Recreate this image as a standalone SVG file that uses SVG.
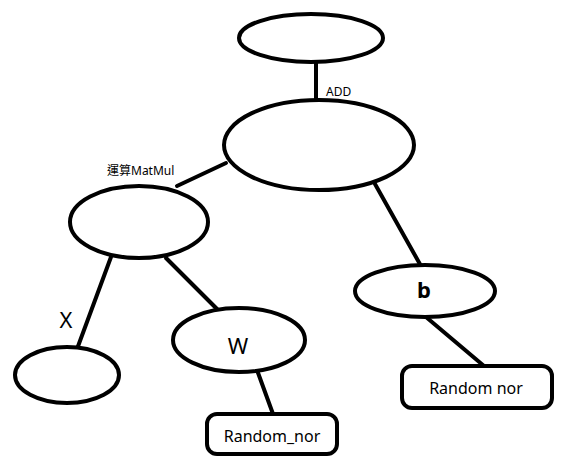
<svg xmlns="http://www.w3.org/2000/svg" width="569" height="464" viewBox="0 0 569 464">
<style>
.n{fill:#fff;stroke:#000;stroke-width:4}
.e{stroke:#000;stroke-width:4;fill:none;stroke-linecap:round}
.t{font-family:"Noto Sans","Noto Sans CJK TC",sans-serif;fill:#000;text-anchor:middle}
.s{font-size:12px;text-anchor:start}
</style>
<rect width="569" height="464" fill="#fff"/>
<g id="connectors">
<line class="e" x1="316" y1="62" x2="316" y2="101"/>
<line class="e" x1="226" y1="163" x2="177" y2="186"/>
<line class="e" x1="375" y1="184" x2="421" y2="266"/>
<line class="e" x1="111" y1="257" x2="77" y2="349"/>
<line class="e" x1="166" y1="258" x2="220" y2="312"/>
<line class="e" x1="257" y1="370" x2="273" y2="414"/>
<line class="e" x1="426" y1="317" x2="484" y2="366"/>
</g>
<g id="top"><ellipse class="n" cx="311" cy="38" rx="72" ry="24"/></g>
<g id="add"><ellipse class="n" cx="319" cy="145" rx="95" ry="45"/><text class="t s" x="326" y="96">ADD</text></g>
<g id="matmul"><ellipse class="n" cx="139" cy="222" rx="69" ry="36"/><text class="t s" x="107" y="175">運算MatMul</text></g>
<g id="b"><ellipse class="n" cx="425" cy="291" rx="70" ry="26"/><text class="t" x="424" y="298" font-size="22" font-weight="bold">b</text></g>
<g id="w"><ellipse class="n" cx="239" cy="340" rx="66" ry="32"/><text class="t" x="238" y="354" font-size="22">W</text></g>
<g id="x"><text class="t" x="66" y="328" font-size="22">X</text><ellipse class="n" cx="67" cy="375" rx="52" ry="28"/></g>
<g id="randw"><rect class="n" x="207" y="414" width="130" height="40" rx="10"/><text class="t" x="272" y="442" font-size="16">Random_nor</text></g>
<g id="randb"><rect class="n" x="402" y="366" width="150" height="42" rx="10"/><text class="t" x="476" y="394" font-size="16">Random nor</text></g>
</svg>
